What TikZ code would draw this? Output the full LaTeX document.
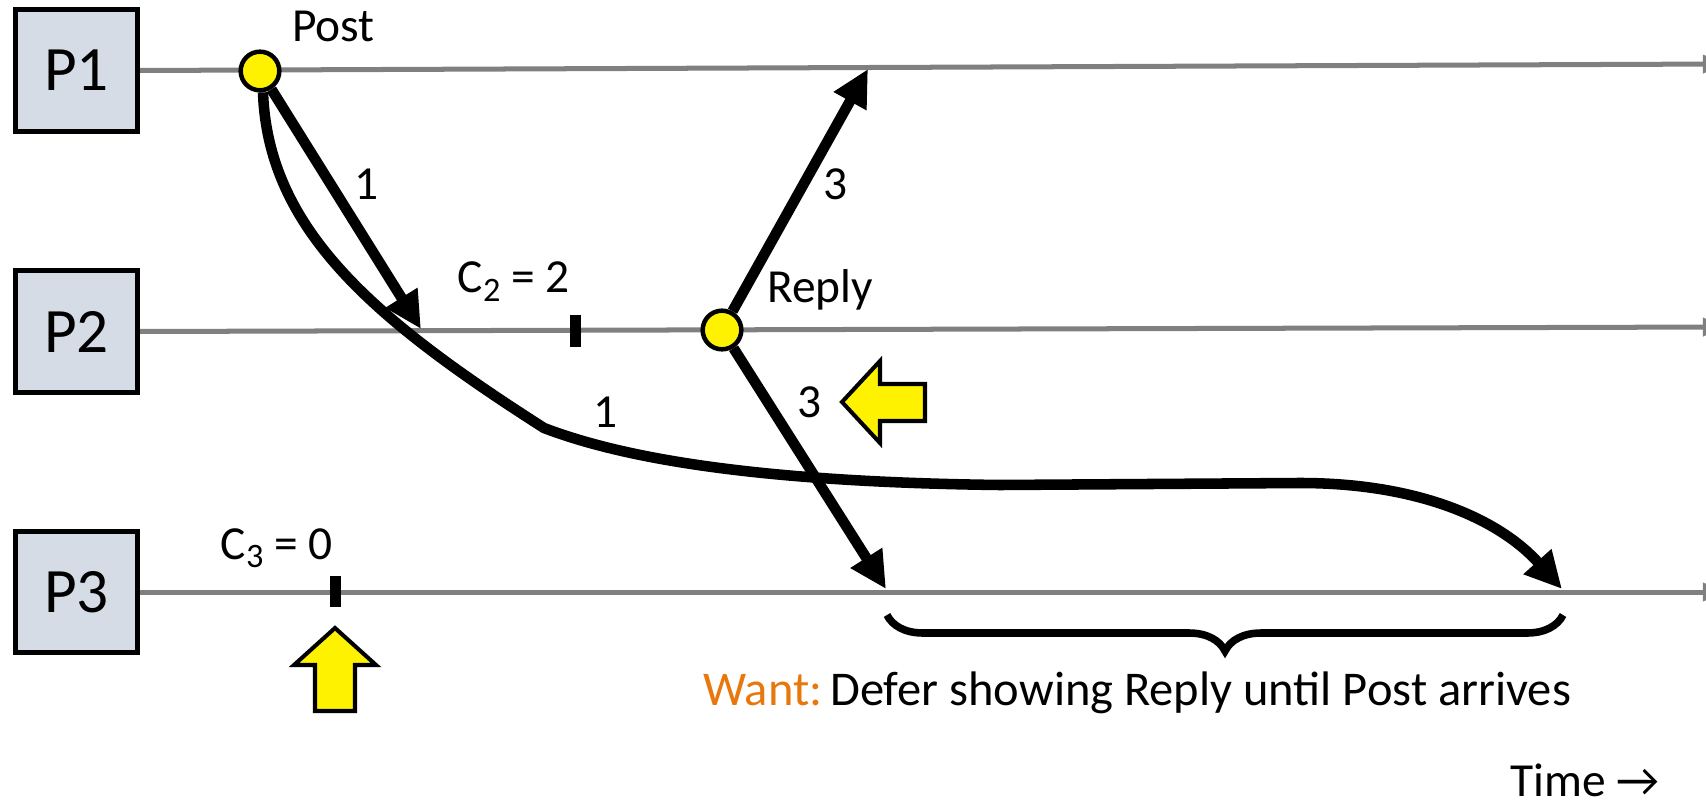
\documentclass[tikz,border=0pt]{standalone}
\usepackage{fontspec}
\setmainfont{Carlito}
\usetikzlibrary{arrows.meta,decorations.pathreplacing,backgrounds}

\definecolor{boxfill}{HTML}{D6DCE5}
\definecolor{wantorange}{RGB}{232,120,14}

\newcommand{\clocksub}[1]{\raisebox{-4.6pt}{\fontsize{19.5}{20}\selectfont #1}}

\tikzset{
    proc box/.style={
      draw=black,
      fill=boxfill,
      line width=2.85pt,
      minimum size=69.4pt,
      inner sep=0pt,
      font=\fontsize{36}{40}\selectfont
    },
    time line/.style={
      draw=black!50,
      line width=2.85pt,
      -{Triangle[length=12pt,width=10pt]}
    },
    event dot/.style={
      circle,
      draw=black,
      fill=yellow,
      line width=2.56pt,
      minimum size=22pt,
      inner sep=0pt
    },
    msg arrow/.style={
      draw=black,
      line width=6pt,
      line join=round,
      -{Triangle[length=21pt,width=20pt]}
    },
    clock tick/.style={
      draw=black,
      line width=6.26pt
    },
    hint arrow/.style={
      draw=black,
      fill=yellow,
      line width=2.3pt,
      line join=miter
    },
    diag label/.style={
      font=\fontsize{27}{30}\selectfont,
      inner sep=0pt
    }
  }

\begin{document}
\begin{tikzpicture}[x=0.02cm, y=-0.02cm]
      \useasboundingbox (0,0) rectangle (1706,807);

      % プロセス
      \node[proc box] (p1) at (76.5,70.5) {P1};
      \node[proc box] (p2) at (76.5,331.5) {P2};
      \node[proc box] (p3) at (76.5,592) {P3};

      % イベント
      \node[event dot] (post) at (260,71) {};
      \node[event dot] (reply) at (722,330) {};

      % 受信点
      \coordinate (p1 end) at (1724,64);
      \coordinate (p2 end) at (1724,327);
      \coordinate (p3 end) at (1724,592);
      \coordinate (p2 recv) at (421,329);
      \coordinate (p1 recv) at (868,69);
      \coordinate (p3 recv) at (886,589);
      \coordinate (p3 late) at (1562,589);

      % 時間軸とメッセージ
      \begin{scope}[on background layer]
        \draw[time line] (p1.east) -- (p1 end);
        \draw[time line] (p2.east) -- (p2 end);
        \draw[time line] (p3.east) -- (p3 end);

        \draw[msg arrow] (post) -- (p2 recv);
        \draw[msg arrow] (post.-82) .. controls (268,230) and (375,320) .. (544,428)
          .. controls (620,457) and (750,482) .. (1000,485) -- (1300,483)
          .. controls (1420,483) and (1500,520) .. (p3 late);
        \draw[msg arrow] (reply) -- (p1 recv);
        \draw[msg arrow] (reply) -- (p3 recv);
      \end{scope}

      % クロック
      \draw[clock tick] (575,315) -- (575,347);
      \draw[clock tick] (335,576) -- (335,607);

      % 黄色い矢印
      \draw[hint arrow] (335,628) -- (376,665) -- (355,665) -- (355,711)
        -- (315,711) -- (315,665) -- (294,665) -- cycle;
      \draw[hint arrow] (842,402) -- (880,361) -- (880,384) -- (925,384)
        -- (925,421) -- (880,421) -- (880,443) -- cycle;

      % 括弧
      \draw[decorate, decoration={brace, amplitude=20.5pt, mirror}, line width=4.3pt]
        (887,615) -- (1563,615);

      % ラベル
      \node[diag label, anchor=base west] (post label) at (292,42) {Post};
      \node[diag label, anchor=base west] (reply label) at (767,303) {Reply};
      \node[diag label, anchor=base east] (c2 label) at (570,293) {C\clocksub{2} = 2};
      \node[diag label, anchor=base east] (c3 label) at (333,559) {C\clocksub{3} = 0};
      \node[diag label] (m1 label) at (367,184) {1};
      \node[diag label] (m1b label) at (606,412) {1};
      \node[diag label] (m3 label) at (836,184) {3};
      \node[diag label] (m3b label) at (810,402) {3};
      \node[diag label, anchor=base west, font=\fontsize{27.6}{30}\selectfont] (want label) at (703,705)
        {\textcolor{wantorange}{Want:}\,Defer showing Reply until Post arrives};
      \node[diag label, anchor=base west] (time label) at (1510,796) {Time →};
    \end{tikzpicture}
\end{document}
